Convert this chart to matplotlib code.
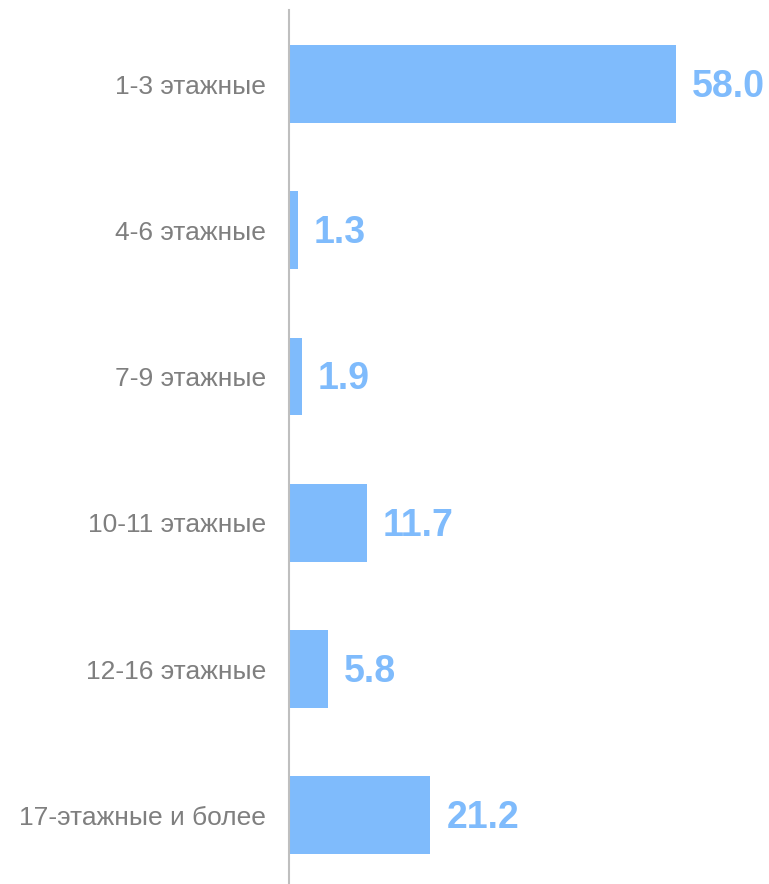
import matplotlib.pyplot as plt

categories = ['1-3 этажные', '4-6 этажные', '7-9 этажные',
              '10-11 этажные', '12-16 этажные', '17-этажные и более']
values = [58.0, 1.3, 1.9, 11.7, 5.8, 21.2]

BAR_COLOR = '#7fbbfc'
TEXT_GRAY = '#7f7f7f'

plt.rcParams['font.family'] = ['Liberation Sans', 'DejaVu Sans']

fig = plt.figure(figsize=(7.69, 8.84), dpi=100)
ax = fig.add_axes([289 / 769, 0, 1 - 289 / 769 - 0.001, 1 - 10 / 884])

pos = list(range(len(categories)))
ax.barh(pos, values, height=0.533, color=BAR_COLOR)

for p, v in zip(pos, values):
    ax.text(v + 2.4, p + 0.02, f'{v:.1f}', va='center', ha='left',
            fontsize=27, fontweight='bold', color=BAR_COLOR)

ax.set_yticks(pos)
ax.set_yticklabels(categories, fontsize=19, color=TEXT_GRAY)
ax.tick_params(axis='y', length=0, pad=16.5)
ax.set_xticks([])
ax.set_xlim(0, 71.8)
ax.set_ylim(5.47, -0.506)

for side in ['top', 'right', 'bottom']:
    ax.spines[side].set_visible(False)
ax.spines['left'].set_color('#bfbfbf')
ax.spines['left'].set_linewidth(1.5)

fig.savefig('out.png', dpi=100)
